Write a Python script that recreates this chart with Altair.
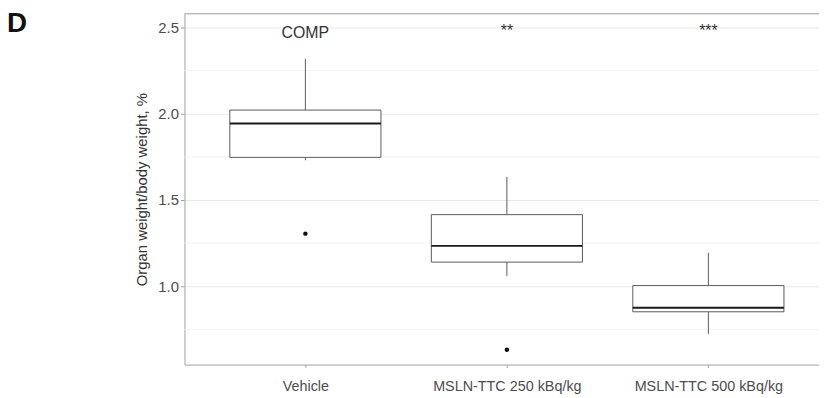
import altair as alt
import pandas as pd

groups = ["Vehicle", "MSLN-TTC 250 kBq/kg", "MSLN-TTC 500 kBq/kg"]
whisker_low = [1.73, 1.06, 0.724]
q1 = [1.747, 1.14, 0.852]
median = [1.943, 1.234, 0.875]
q3 = [2.021, 1.415, 1.004]
whisker_high = [2.318, 1.634, 1.194]

outlier_groups = ["Vehicle", "MSLN-TTC 250 kBq/kg"]
outlier_values = [1.305, 0.632]

annot_labels = ["COMP", "**", "***"]
annot_y = [2.47, 2.48, 2.48]

minor_grid = [0.75, 1.25, 1.75, 2.25]
major_ticks = [1.0, 1.5, 2.0, 2.5]

FONT = "Liberation Sans"
BOX_COL = "#5a5a5a"
BORDER = "#b0b0b0"
HALF = 0.375

pos = {g: i + 1 for i, g in enumerate(groups)}

box_df = pd.DataFrame({
    "group": groups, "lo": whisker_low, "q1": q1, "med": median,
    "q3": q3, "hi": whisker_high,
})
box_df["pos"] = box_df["group"].map(pos)
out_df = pd.DataFrame({"group": outlier_groups, "value": outlier_values})
out_df["pos"] = out_df["group"].map(pos)
ann_df = pd.DataFrame({"group": groups, "label": annot_labels, "y": annot_y})
ann_df["pos"] = ann_df["group"].map(pos)
grid_df = pd.DataFrame({"y": minor_grid})

label_expr = " : ".join(
    f"datum.value == {i + 1} ? '{g}'" for i, g in enumerate(groups)
) + " : ''"

xscale = alt.Scale(domain=[0.4, 3.549], nice=False, zero=False)
yscale = alt.Scale(domain=[0.546, 2.58], nice=False, zero=False)

xaxis = alt.Axis(values=[1, 2, 3], labelExpr=label_expr, labelAngle=0,
                 labelFontSize=14.5, labelColor="#4d4d4d", labelFont=FONT,
                 tickColor="#a0a0a0", tickSize=3, domain=True, domainColor=BORDER,
                 labelPadding=12, grid=False, title=None)
yaxis = alt.Axis(values=major_ticks, format=".1f", labelFontSize=15,
                 labelColor="#4d4d4d", labelFont=FONT, tickColor="#a0a0a0",
                 tickSize=4, domain=True, domainColor=BORDER, gridColor="#e8e8e8",
                 titleFont=FONT, titleFontSize=15, titleFontWeight="normal",
                 titleColor="#333333", titlePadding=8, labelPadding=2)

grid = alt.Chart(grid_df).mark_rule(color="#f3f3f3", strokeWidth=1).encode(
    y=alt.Y("y:Q", scale=yscale, axis=yaxis, title="Organ weight/body weight, %")
)

base = alt.Chart(box_df).transform_calculate(
    xl=f"datum.pos - {HALF}", xr=f"datum.pos + {HALF}"
)

whisk_hi = base.mark_rule(color=BOX_COL, strokeWidth=1).encode(
    x=alt.X("pos:Q", scale=xscale, axis=xaxis),
    y=alt.Y("q3:Q", scale=yscale),
    y2="hi:Q",
)
whisk_lo = base.mark_rule(color=BOX_COL, strokeWidth=1).encode(
    x=alt.X("pos:Q", scale=xscale), y=alt.Y("lo:Q", scale=yscale), y2="q1:Q"
)
box = base.mark_rect(fill="white", stroke=BOX_COL, strokeWidth=1).encode(
    x=alt.X("xl:Q", scale=xscale), x2="xr:Q",
    y=alt.Y("q1:Q", scale=yscale), y2="q3:Q"
)
med = base.mark_rule(color="#1a1a1a", strokeWidth=2).encode(
    x=alt.X("xl:Q", scale=xscale), x2="xr:Q",
    y=alt.Y("med:Q", scale=yscale)
)
outl = alt.Chart(out_df).mark_circle(color="#111111", size=20, opacity=1).encode(
    x=alt.X("pos:Q", scale=xscale), y=alt.Y("value:Q", scale=yscale)
)
ann = alt.Chart(ann_df).mark_text(font=FONT, fontSize=16, color="#333333",
                                  baseline="middle", align="center").encode(
    x=alt.X("pos:Q", scale=xscale), y=alt.Y("y:Q", scale=yscale), text="label:N"
)
top_border = alt.Chart(pd.DataFrame({"t": [0]})).mark_rule(
    color=BORDER, strokeWidth=1
).encode(x=alt.value(0), x2=alt.value(640), y=alt.value(0))

panel_label = alt.Chart(pd.DataFrame({"t": ["D"]})).mark_text(
    font=FONT, fontSize=28, fontWeight="bold", color="#111111",
    align="left", baseline="middle"
).encode(text="t:N", x=alt.value(-179), y=alt.value(11))

chart = alt.layer(grid, whisk_hi, whisk_lo, box, med, outl, ann, top_border,
                  panel_label).properties(
    width=640, height=354,
    autosize=alt.AutoSizeParams(type="none"),
    padding={"left": 178, "top": 4, "right": 0, "bottom": 30},
).configure_view(stroke=None).configure(background="white")

chart.save("out.html", embed_options={"renderer": "svg", "actions": False})
